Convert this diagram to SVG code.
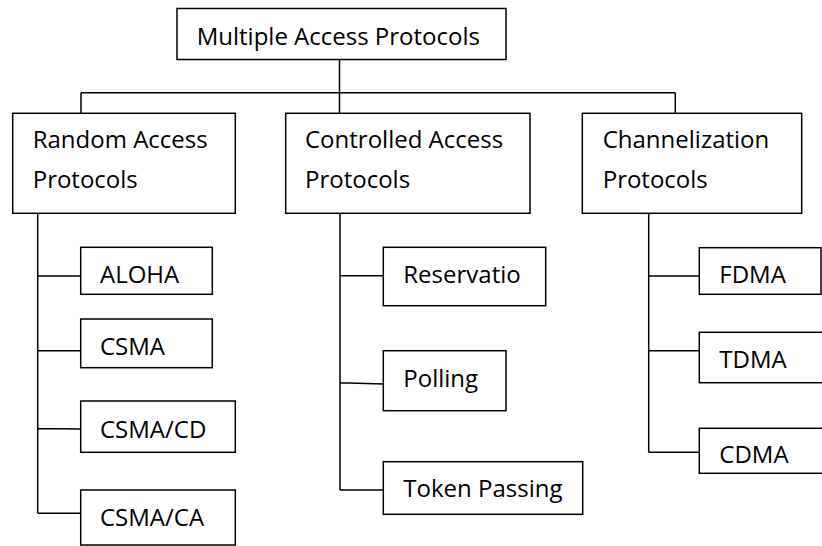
<svg xmlns="http://www.w3.org/2000/svg" width="822" height="546" viewBox="0 0 822 546">
<style>
.box{fill:#fff;stroke:#000;stroke-width:1.5}
.ln{fill:none;stroke:#000;stroke-width:1.5}
text{font-family:"Open Sans","Liberation Sans",sans-serif;font-size:24px;fill:#000}
</style>
<rect width="822" height="546" fill="#fff"/>
<g id="connectors">
<path class="ln" d="M339.5 59.5V113.3M81 92.7H675.3M81 92.7V113.3M675.3 92.7V113.3"/>
<path class="ln" d="M37.7 213.3V513.3M37.7 276H80.7M37.7 350.7H80.7M37.7 428.5L80.7 429M37.7 513.3H80.7"/>
<path class="ln" d="M340 213.3V490M340 275.7H383.3M340 382.7L383.3 384M340 490H383.3"/>
<path class="ln" d="M648.7 213.3V452.3M648.7 276H699.3M648.7 350.7H699.3M648.7 452.3H699.3"/>
</g>
<g id="root"><rect class="box" x="177" y="8.5" width="329" height="51"/><text x="196.7" y="45">Multiple Access Protocols</text></g>
<g id="random"><rect class="box" x="12.7" y="113.3" width="222.6" height="100"/><text x="32.7" y="148.3">Random Access</text><text x="32.7" y="188.3">Protocols</text></g>
<g id="controlled"><rect class="box" x="285.7" y="113.3" width="244.3" height="100"/><text x="305" y="148.3">Controlled Access</text><text x="305" y="188.3">Protocols</text></g>
<g id="channel"><rect class="box" x="582.3" y="113.3" width="219.4" height="100"/><text x="602.7" y="148.3">Channelization</text><text x="602.7" y="188.3">Protocols</text></g>
<g id="aloha"><rect class="box" x="80.7" y="247.3" width="131.6" height="47"/><text x="100" y="283.3">ALOHA</text></g>
<g id="csma"><rect class="box" x="80.7" y="319" width="131.6" height="48.7"/><text x="100" y="355">CSMA</text></g>
<g id="csmacd"><rect class="box" x="80.7" y="401" width="154.6" height="51.3"/><text x="100" y="438.3">CSMA/CD</text></g>
<g id="csmaca"><rect class="box" x="80.7" y="490" width="154.6" height="55"/><text x="100" y="526">CSMA/CA</text></g>
<g id="reservation"><rect class="box" x="383.3" y="247.3" width="162.4" height="58.4"/><text x="403.3" y="283.3">Reservatio</text></g>
<g id="polling"><rect class="box" x="383.3" y="350.7" width="122.7" height="60"/><text x="403.3" y="386.7">Polling</text></g>
<g id="token"><rect class="box" x="383.3" y="461.7" width="199.4" height="52.6"/><text x="403.3" y="496.7">Token Passing</text></g>
<g id="fdma"><rect class="box" x="699.3" y="247.7" width="121.7" height="46.6"/><text x="719.3" y="283.3">FDMA</text></g>
<g id="tdma"><rect class="box" x="699.3" y="332.3" width="130" height="50.4"/><text x="719.3" y="367.7">TDMA</text></g>
<g id="cdma"><rect class="box" x="699.3" y="428.3" width="130" height="45"/><text x="719.3" y="463.3">CDMA</text></g>
</svg>
